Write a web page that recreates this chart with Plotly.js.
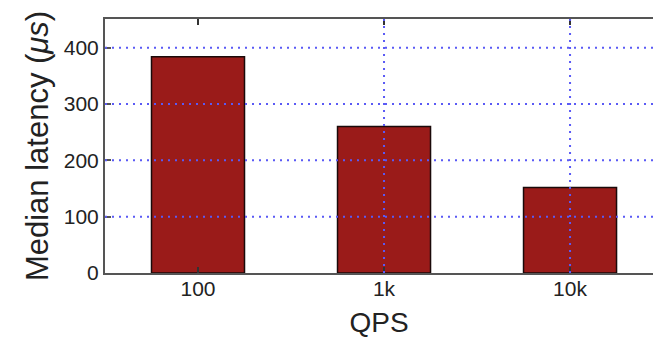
<!DOCTYPE html>
<html>
<head>
<meta charset="utf-8">
<script src="https://cdn.plot.ly/plotly-3.0.1.min.js"></script>
<style>html,body{margin:0;padding:0;background:#fff;}#chart{width:653px;height:338px;}</style>
</head>
<body>
<div id="chart"></div>
<script>
var categories = ['100', '1k', '10k'];
var latency = [384, 260, 152];
var yTicks = [0, 100, 200, 300, 400];

var gridStyle = {color: '#5a5af5', width: 2, dash: '2px,5px'};
var shapes = [];
categories.forEach(function (c) {
  shapes.push({type: 'line', layer: 'above', xref: 'x', yref: 'paper', x0: c, x1: c, y0: 0, y1: 1, line: gridStyle});
});
yTicks.filter(function (v) { return v > 0; }).forEach(function (v) {
  shapes.push({type: 'line', layer: 'above', xref: 'paper', yref: 'y', x0: 0, x1: 1, y0: v, y1: v, line: gridStyle});
});

var trace = {
  type: 'bar',
  x: categories,
  y: latency,
  width: 0.5,
  marker: {color: '#9a1b19', line: {color: '#1a0a0a', width: 1.5}},
  hoverinfo: 'skip'
};

var layout = {
  width: 653, height: 338,
  margin: {l: 105, r: 0, t: 19, b: 65, pad: 0},
  paper_bgcolor: '#ffffff', plot_bgcolor: '#ffffff',
  font: {family: 'Liberation Sans, Arial, sans-serif', color: '#222', size: 21},
  showlegend: false,
  xaxis: {
    type: 'category',
    range: [-0.5, 2.446],
    showgrid: false, zeroline: false,
    showline: true, linecolor: '#555', linewidth: 2, mirror: 'allticks',
    ticks: 'inside', ticklen: 6, tickwidth: 2, tickcolor: '#333',
    tickfont: {size: 21, color: '#222'},
    ticklabelstandoff: -4,
    title: {text: 'QPS', font: {size: 28, color: '#222'}, standoff: 19}
  },
  yaxis: {
    range: [0, 451],
    tickvals: yTicks,
    showgrid: false, zeroline: false,
    showline: true, linecolor: '#555', linewidth: 2, mirror: false,
    ticks: 'inside', ticklen: 6, tickwidth: 2, tickcolor: '#555',
    tickfont: {size: 21, color: '#222'},
    title: {text: 'Median latency (<i>μs</i>)', font: {size: 31, color: '#222'}, standoff: 6}
  },
  shapes: shapes
};

Plotly.newPlot('chart', [trace], layout, {staticPlot: true, displayModeBar: false});
</script>
</body>
</html>
